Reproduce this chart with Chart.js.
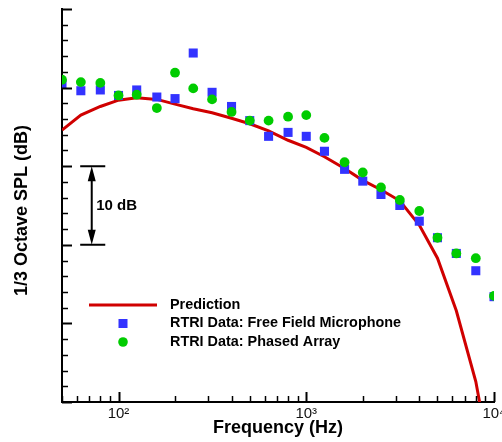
<!DOCTYPE html>
<html><head><meta charset="utf-8">
<script src="https://cdn.jsdelivr.net/npm/chart.js@4/dist/chart.umd.min.js"></script>
<style>html,body{margin:0;padding:0;background:#fff;}#wrap{width:502px;height:442px;}</style>
</head><body><div id="wrap"><canvas id="c" width="502" height="442"></canvas></div>
<script>
// 1/3-octave band centre frequencies (Hz)
const frequencies = [50,63,80,100,125,160,200,250,315,400,500,630,800,1000,1250,1600,2000,2500,3150,4000,5000,6300,8000,10000];
// Relative SPL values (dB)
const predictionDb   = [34.6,36.5,37.6,38.4,38.7,38.5,37.9,37.3,36.8,36.1,35.4,34.5,33.3,32.4,31.2,29.7,28.2,27.0,25.6,22.5,18.3,11.6,2.6,-10];
const freeFieldMicDb = [40.5,39.6,39.7,39.0,39.7,38.8,38.6,44.4,39.4,37.6,35.8,33.8,34.3,33.8,31.9,29.6,28.1,26.4,25.0,23.0,20.9,18.9,16.7,13.4];
const phasedArrayDb  = [41.0,40.7,40.6,39.0,39.1,37.4,41.9,39.9,38.5,36.9,35.8,35.8,36.3,36.5,33.6,30.5,29.2,27.3,25.7,24.3,20.9,18.9,18.3,13.5];
const seriesNames = ['Prediction','RTRI Data: Free Field Microphone','RTRI Data: Phased Array'];
const xTickLabels = {100:'10\u00B2',1000:'10\u00B3',10000:'10\u2074'};
const xTitle = 'Frequency (Hz)';
const yTitle = '1/3 Octave SPL (dB)';
const scaleBarLabel = '10 dB';
// 10 dB reference bar, in data units
const scaleBar = {fLeft:62.5, fRight:85, fArrow:72, dbLow:20, dbHigh:30, fText:76, dbText:25};
const yRange = {min:0, max:50, minor:2, major:10};
const xRange = {min:50, max:10000};

const FONT = "'Liberation Sans', Arial, Helvetica, sans-serif";
Chart.defaults.font.family = FONT;
const RED = '#d00000', BLUE = '#3333ff', GREEN = '#00cc00';

const pts = ys => frequencies.map((f,i)=>({x:f,y:ys[i]}));

const decor = {
  id:'decor',
  afterDraw(chart){
    const ctx = chart.ctx, xs = chart.scales.x, ys = chart.scales.y, a = chart.chartArea;
    ctx.save();
    ctx.strokeStyle = '#000';
    // y ticks (inward)
    for (let v = yRange.min; v <= yRange.max + 1e-9; v += yRange.minor) {
      const y = Math.round(ys.getPixelForValue(v)) + 0.5;
      const major = Math.abs(v % yRange.major) < 1e-9;
      ctx.lineWidth = major ? 2 : 1.5;
      ctx.beginPath(); ctx.moveTo(a.left, y); ctx.lineTo(a.left + (major ? 10 : 6), y); ctx.stroke();
    }
    // x ticks (inward)
    for (let d = 10; d <= 10000; d *= 10) {
      for (let m = 1; m <= 9; m++) {
        const v = m * d;
        if (v < xRange.min || v > xRange.max) continue;
        const x = Math.round(xs.getPixelForValue(v)) + 0.5;
        const major = m === 1;
        ctx.lineWidth = major ? 2 : 1.5;
        ctx.beginPath(); ctx.moveTo(x, a.bottom); ctx.lineTo(x, a.bottom - (major ? 10 : 6)); ctx.stroke();
      }
    }
    // 10 dB bar
    const xl = xs.getPixelForValue(scaleBar.fLeft), xr = xs.getPixelForValue(scaleBar.fRight);
    const xa = xs.getPixelForValue(scaleBar.fArrow);
    const yh = ys.getPixelForValue(scaleBar.dbHigh), yl = ys.getPixelForValue(scaleBar.dbLow);
    ctx.lineWidth = 2;
    ctx.beginPath();
    ctx.moveTo(xl, yh); ctx.lineTo(xr, yh);
    ctx.moveTo(xl, yl); ctx.lineTo(xr, yl);
    ctx.moveTo(xa, yh + 10); ctx.lineTo(xa, yl - 10);
    ctx.stroke();
    ctx.fillStyle = '#000';
    ctx.beginPath(); ctx.moveTo(xa, yh); ctx.lineTo(xa - 4, yh + 15); ctx.lineTo(xa + 4, yh + 15); ctx.closePath(); ctx.fill();
    ctx.beginPath(); ctx.moveTo(xa, yl); ctx.lineTo(xa - 4, yl - 15); ctx.lineTo(xa + 4, yl - 15); ctx.closePath(); ctx.fill();
    ctx.font = 'bold 15px ' + FONT;
    ctx.textAlign = 'left'; ctx.textBaseline = 'middle';
    ctx.fillText(scaleBarLabel, xs.getPixelForValue(scaleBar.fText), ys.getPixelForValue(scaleBar.dbText));
    // legend
    const lx1 = a.left + 27, lx2 = a.left + 95, sx = a.left + 61, tx = a.left + 108;
    const ry = [a.top + 296, a.top + 314.5, a.top + 333];
    ctx.strokeStyle = RED; ctx.lineWidth = 3;
    ctx.beginPath(); ctx.moveTo(lx1, ry[0]); ctx.lineTo(lx2, ry[0]); ctx.stroke();
    ctx.fillStyle = BLUE; ctx.fillRect(sx - 4.5, ry[1] - 4.5, 9, 9);
    ctx.fillStyle = GREEN; ctx.beginPath(); ctx.arc(sx, ry[2], 4.8, 0, Math.PI * 2); ctx.fill();
    ctx.fillStyle = '#000';
    ctx.font = 'bold 14.4px ' + FONT;
    seriesNames.forEach((n, i) => ctx.fillText(n, tx, ry[i]));
    ctx.restore();
  }
};

new Chart(document.getElementById('c'), {
  type:'scatter',
  data:{datasets:[
    {label:seriesNames[0], data:pts(predictionDb), showLine:true, borderColor:RED, borderWidth:3, pointRadius:0, tension:0, order:3},
    {label:seriesNames[1], data:pts(freeFieldMicDb), pointStyle:'rect', pointRadius:6.4, backgroundColor:BLUE, borderColor:BLUE, borderWidth:0, order:2},
    {label:seriesNames[2], data:pts(phasedArrayDb), pointStyle:'circle', pointRadius:4.9, backgroundColor:GREEN, borderColor:GREEN, borderWidth:0, order:1}
  ]},
  options:{
    responsive:false, animation:false, devicePixelRatio:1,
    layout:{padding:{left:7, right:8, top:9, bottom:0}},
    plugins:{legend:{display:false}, tooltip:{enabled:false}},
    scales:{
      x:{type:'logarithmic', position:'bottom', min:xRange.min, max:xRange.max,
        grid:{display:false, drawTicks:false},
        border:{display:true, color:'#000', width:2},
        ticks:{autoSkip:false, maxRotation:0, minRotation:0, padding:3, color:'#111', font:{size:15},
          callback:(v)=> xTickLabels[Math.round(v)] || ''},
        title:{display:true, text:xTitle, color:'#000', font:{size:18, weight:'bold'}, padding:{top:0, bottom:3}},
        afterFit(s){ s.height = 40; s.paddingLeft = 0; s.paddingRight = 0; }
      },
      y:{type:'linear', min:yRange.min, max:yRange.max,
        grid:{display:false, drawTicks:false},
        border:{display:true, color:'#000', width:2},
        ticks:{display:false},
        title:{display:true, text:yTitle + '  ', color:'#000', font:{size:18, weight:'bold'}, padding:{top:4, bottom:4}},
        afterFit(s){ s.width = 55; }
      }
    }
  },
  plugins:[decor]
});
</script></body></html>
